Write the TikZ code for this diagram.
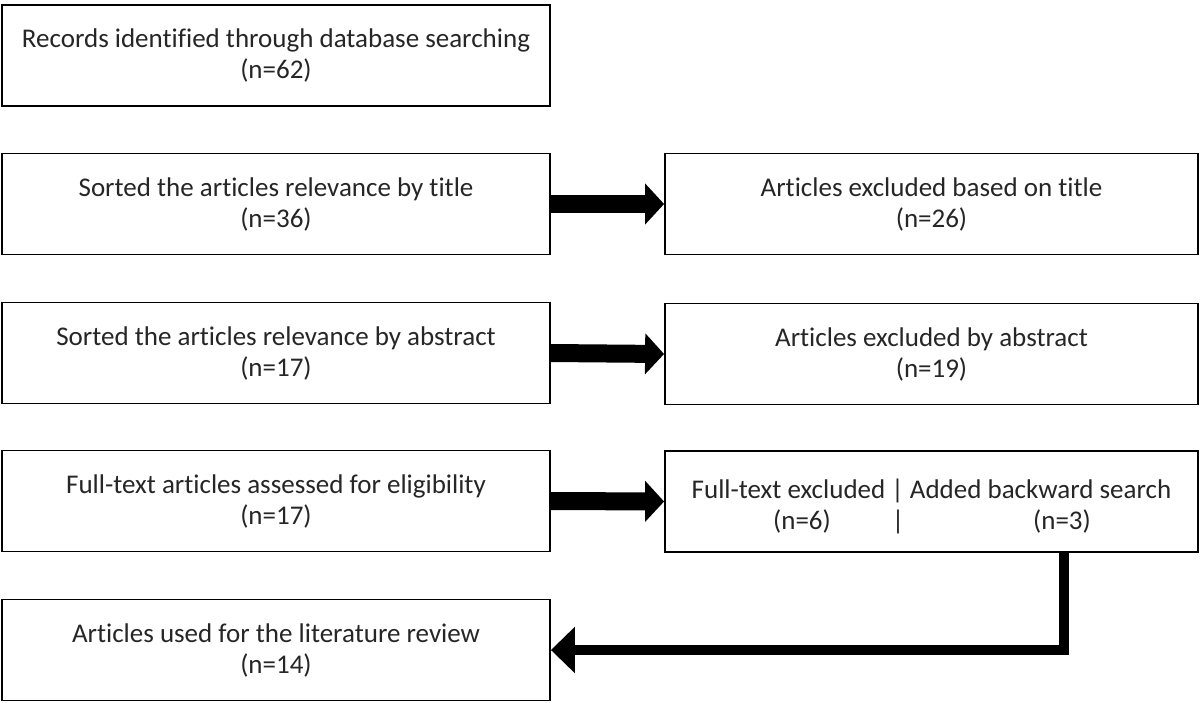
\documentclass[tikz,border=0pt]{standalone}
\usepackage{fontspec}
\setmainfont{Carlito}[Ligatures={NoCommon}]
\usetikzlibrary{arrows.meta}
\tikzset{
  box/.style={draw=black, line width=1.8pt, fill=white, minimum width=548pt, minimum height=101pt, inner sep=0pt, align=center, font=\fontsize{27}{31}\selectfont, text=black!85, execute at begin node={\rule{0pt}{26pt}}},
  plainbox/.style={draw=black, line width=1.8pt, fill=white, minimum width=533pt, minimum height=101pt, inner sep=0pt},
  txt/.style={inner sep=0pt, anchor=base, font=\fontsize{27}{31}\selectfont, text=black!85},
  bigarrow/.style={line width=18pt, -{Triangle[length=19pt,width=40pt]}},
  elbowarrow/.style={line width=10pt, -{Triangle[length=24pt,width=45pt]}}
}
\begin{document}
\begin{tikzpicture}[x=1pt,y=-1pt]
\useasboundingbox (0,0) rectangle (1200,702);
\node[box] (b1) at (276,55.5) {Records identified through database searching\\(n=62)};
\node[box] (b2) at (276,204) {Sorted the articles relevance by title\\(n=36)};
\node[box, minimum width=533pt] (b3) at (931.5,204) {Articles excluded based on title\\(n=26)};
\node[box] (b4) at (276,353) {Sorted the articles relevance by abstract\\(n=17)};
\node[box, minimum width=533pt] (b5) at (931.5,354) {Articles excluded by abstract\\(n=19)};
\node[box] (b6) at (276,501) {Full-text articles assessed for eligibility\\(n=17)};
\node[plainbox] (b7) at (931.5,501.5) {};
\node[txt] (b7a) at (931.5,498) {Full-text excluded | Added backward search};
\node[txt] (b7b) at (802,529) {(n=6)};
\node[txt] (b7c) at (898,529) {|};
\node[txt] (b7d) at (1062,529) {(n=3)};
\node[box] (b8) at (276,650) {Articles used for the literature review\\(n=14)};
\coordinate (ex) at (1064,0);
\draw[bigarrow] (b2.east) -- (b3.west);
\draw[bigarrow] (b4.east) -- (b5.west);
\draw[bigarrow] (b6.east) -- (b7.west);
\draw[elbowarrow] (b7.south -| ex) |- (b8.east);
\end{tikzpicture}
\end{document}
